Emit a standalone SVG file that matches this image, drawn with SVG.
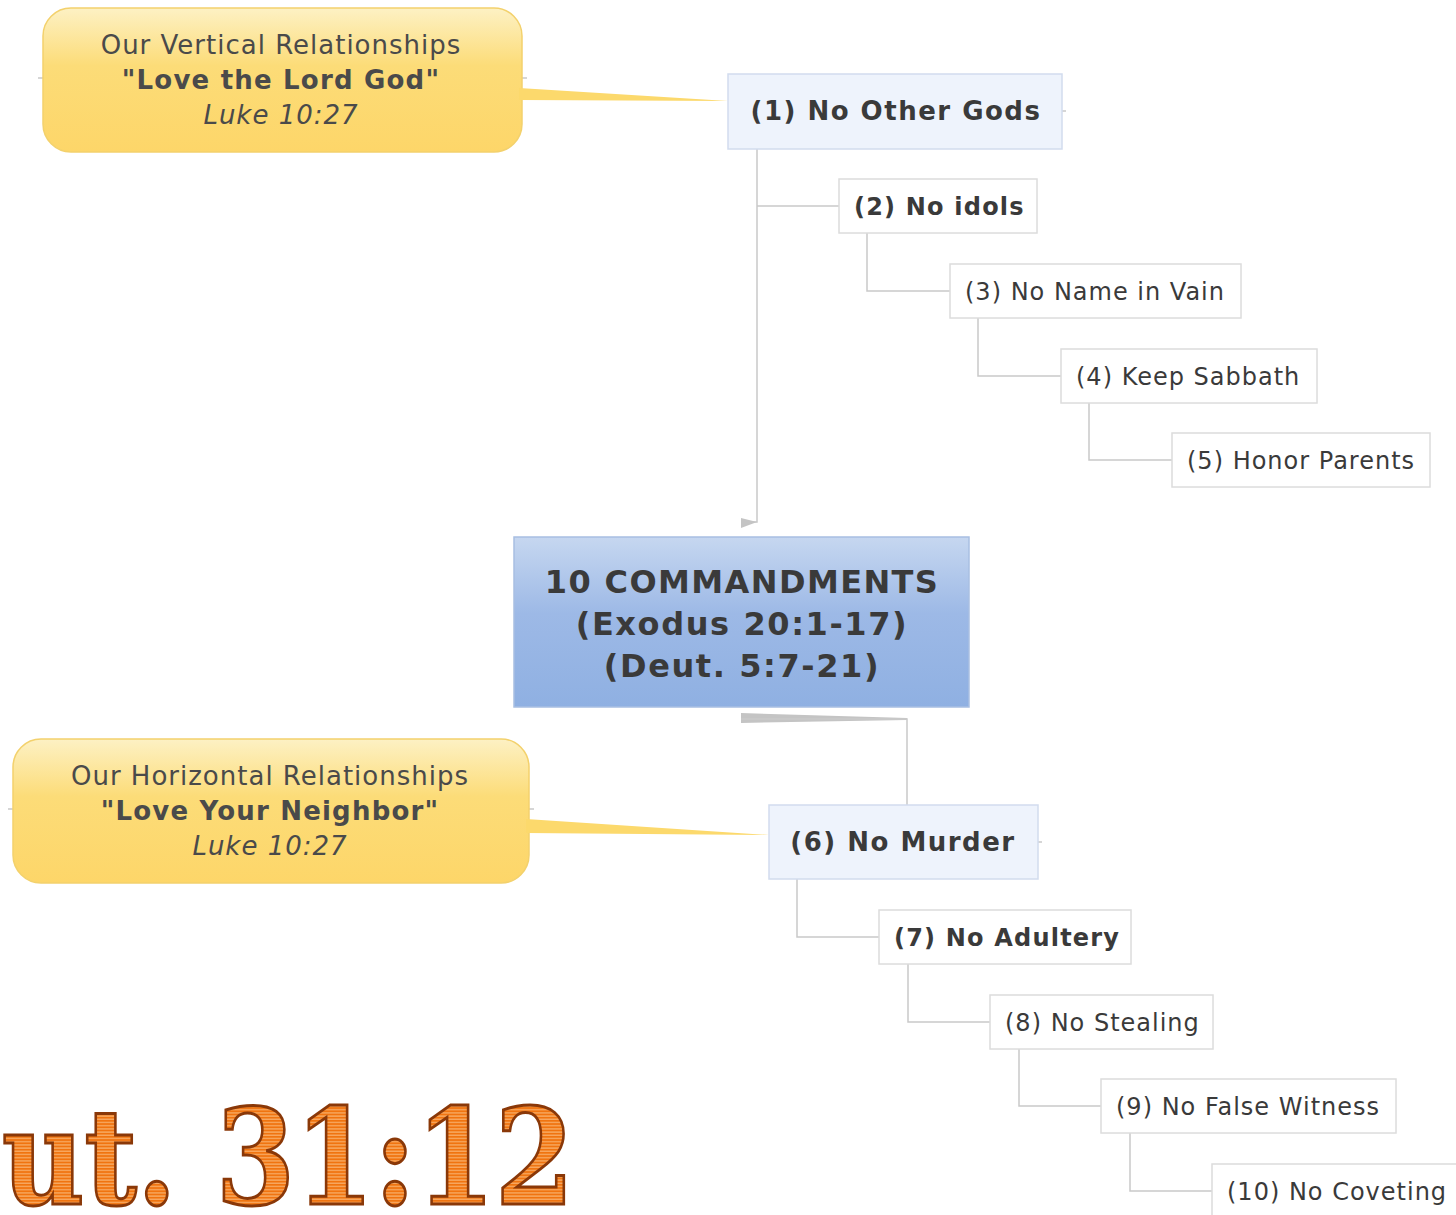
<svg xmlns="http://www.w3.org/2000/svg" width="1456" height="1215" viewBox="0 0 1456 1215">
<defs>
<linearGradient id="gYel" x1="0" y1="0" x2="0" y2="1">
<stop offset="0" stop-color="#fdf1c4"/>
<stop offset="0.4" stop-color="#fcdc78"/>
<stop offset="1" stop-color="#fdd669"/>
</linearGradient>
<linearGradient id="gBlue" x1="0" y1="0" x2="0" y2="1">
<stop offset="0" stop-color="#c6d7f0"/>
<stop offset="0.45" stop-color="#9db9e6"/>
<stop offset="1" stop-color="#8fb0e2"/>
</linearGradient>
<pattern id="stripes" width="8" height="3.2" patternUnits="userSpaceOnUse">
<rect width="8" height="3.2" fill="#f7a860"/>
<rect width="8" height="1.8" fill="#f07410"/>
</pattern>
<style>
.t{font-family:"DejaVu Sans",Verdana,sans-serif;fill:#3a3a3a}
.b{font-weight:bold}
.n{fill:#fff;stroke:#dcdcdc;stroke-width:1.5}
.nb{fill:#eef3fc;stroke:#d2dcee;stroke-width:1.5}
.c{fill:none;stroke:#c9c9c9;stroke-width:1.5}
.co{fill:url(#gYel);stroke:#f3d16c;stroke-width:1.5}
.ct{font-family:"DejaVu Sans",Verdana,sans-serif;fill:#4a4a4a;font-size:26px;text-anchor:middle}
</style>
</defs>
<rect width="1456" height="1215" fill="#fff"/>

<g id="connectors">
<path class="c" d="M757 149 V522 H745"/>
<polygon points="741,518 757,522 741,528" fill="#c4c4c4"/>
<path class="c" d="M757 206 H839"/>
<path class="c" d="M867 233 V291 H950"/>
<path class="c" d="M978 318 V376 H1061"/>
<path class="c" d="M1089 403 V460 H1172"/>
<polygon points="741,713 907,718 907,720 741,723" fill="#c4c4c4"/>
<path class="c" d="M741 719 H907 V805"/>
<path class="c" d="M797 879 V937 H879"/>
<path class="c" d="M908 964 V1022 H990"/>
<path class="c" d="M1019 1049 V1106 H1101"/>
<path class="c" d="M1130 1133 V1191 H1212"/>
<path class="c" d="M38 78 H43 M522 78 H527 M1062 111 H1066 M8 809 H13 M529 809 H534 M1038 842 H1042"/>
</g>

<g id="callout-vertical">
<rect class="co" x="43" y="8" width="479" height="144" rx="28"/>
<polygon points="519,88 728,101 519,100" fill="#fcd96c"/>
<text class="ct" x="281" y="54" letter-spacing="1">Our Vertical Relationships</text>
<text class="ct b" x="281" y="89" letter-spacing="1.2">"Love the Lord God"</text>
<text class="ct" x="281" y="124" font-style="italic" letter-spacing="1">Luke 10:27</text>
</g>

<g id="node1">
<rect class="nb" x="728" y="74" width="334" height="75"/>
<text class="t b" x="896" y="120" font-size="26" text-anchor="middle" letter-spacing="1.5">(1) No Other Gods</text>
</g>
<g id="node2">
<rect class="n" x="839" y="179" width="198" height="54"/>
<text class="t b" x="854" y="215" font-size="24" letter-spacing="1.2">(2) No idols</text>
</g>
<g id="node3">
<rect class="n" x="950" y="264" width="291" height="54"/>
<text class="t" x="965" y="300" font-size="24" letter-spacing="1">(3) No Name in Vain</text>
</g>
<g id="node4">
<rect class="n" x="1061" y="349" width="256" height="54"/>
<text class="t" x="1076" y="385" font-size="24" letter-spacing="1">(4) Keep Sabbath</text>
</g>
<g id="node5">
<rect class="n" x="1172" y="433" width="258" height="54"/>
<text class="t" x="1187" y="469" font-size="24" letter-spacing="1">(5) Honor Parents</text>
</g>

<g id="central">
<rect x="514" y="537" width="455" height="170" fill="url(#gBlue)" stroke="#a8bfe2" stroke-width="1.5"/>
<text class="t b" x="742" y="593" font-size="32" text-anchor="middle" letter-spacing="1.4">10 COMMANDMENTS</text>
<text class="t b" x="742" y="635" font-size="32" text-anchor="middle" letter-spacing="1.6">(Exodus 20:1-17)</text>
<text class="t b" x="742" y="677" font-size="32" text-anchor="middle" letter-spacing="1.6">(Deut. 5:7-21)</text>
</g>

<g id="callout-horizontal">
<rect class="co" x="13" y="739" width="516" height="144" rx="28"/>
<polygon points="526,819 769,835 526,833" fill="#fcd96c"/>
<text class="ct" x="270" y="785" letter-spacing="1">Our Horizontal Relationships</text>
<text class="ct b" x="270" y="820" letter-spacing="1.2">"Love Your Neighbor"</text>
<text class="ct" x="270" y="855" font-style="italic" letter-spacing="1">Luke 10:27</text>
</g>

<g id="node6">
<rect class="nb" x="769" y="805" width="269" height="74"/>
<text class="t b" x="903" y="851" font-size="26" text-anchor="middle" letter-spacing="1.5">(6) No Murder</text>
</g>
<g id="node7">
<rect class="n" x="879" y="910" width="252" height="54"/>
<text class="t b" x="894" y="946" font-size="24" letter-spacing="1.2">(7) No Adultery</text>
</g>
<g id="node8">
<rect class="n" x="990" y="995" width="223" height="54"/>
<text class="t" x="1005" y="1031" font-size="24" letter-spacing="1">(8) No Stealing</text>
</g>
<g id="node9">
<rect class="n" x="1101" y="1079" width="295" height="54"/>
<text class="t" x="1116" y="1115" font-size="24" letter-spacing="1">(9) No False Witness</text>
</g>
<g id="node10">
<rect class="n" x="1212" y="1164" width="250" height="60"/>
<text class="t" x="1227" y="1200" font-size="24" letter-spacing="1">(10) No Coveting</text>
</g>

<text x="2" y="1204" font-family="'DejaVu Serif',serif" font-weight="bold" font-size="132" fill="url(#stripes)" stroke="#8a3808" stroke-width="3" textLength="572" lengthAdjust="spacingAndGlyphs">ut. 31:12</text>
</svg>
